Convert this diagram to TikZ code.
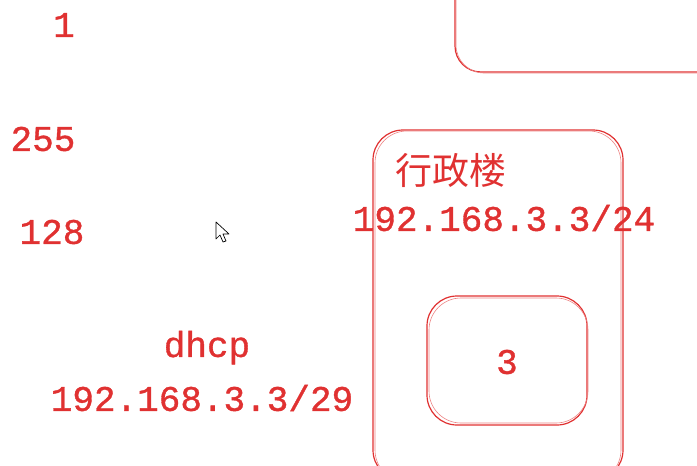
\documentclass[tikz,border=0pt]{standalone}
\usepackage{fontspec}
\setmonofont{Liberation Mono}[FakeBold=1]
\newfontfamily\cjk{Noto Sans CJK SC}
\usetikzlibrary{positioning}
\definecolor{sketchred}{HTML}{E03131}
\tikzset{
  sketch/.style={draw=sketchred, line width=1.2pt},
  sketchfaint/.style={draw=sketchred!60, line width=0.6pt},
  label/.style={text=sketchred, font=\ttfamily\fontsize{36}{40}\selectfont, inner sep=0pt},
  cjklabel/.style={text=sketchred, font=\cjk\fontsize{37}{40}\selectfont, inner sep=0pt},
}
\begin{document}
\begin{tikzpicture}[x=1pt, y=-1pt]
  \useasboundingbox (0,0) rectangle (697,466);

  % numbers on the left
  \node[label] (one) at (64,25) {1};
  \node[label] (mask) at (43,139) {255};
  \node[label] (half) at (52,232) {128};

  % dhcp range
  \node[label] (dhcpip) at (202,398) {192.168.3.3/29};
  \node[label, above=20pt of dhcpip, xshift=5pt] (dhcp) {dhcp};

  % top right box (cut off)
  \draw[sketch, rounded corners=26] (455,-40) rectangle (740,72);
  \draw[sketchfaint, rounded corners=28] (456,-40) rectangle (740,73);

  % admin building
  \draw[sketch, rounded corners=30] (373,130) rectangle (623,480);
  \draw[sketchfaint, rounded corners=32] (375,131) rectangle (621,482);
  \node[cjklabel] (admin) at (451,170) {行政楼};
  \node[label] (adminip) at (504,218) {192.168.3.3/24};

  % inner box
  \draw[sketch, rounded corners=30] (427,296) rectangle (587,425);
  \draw[sketchfaint, rounded corners=32] (429,298) rectangle (588,423);
  \node[label] (three) at (507,362) {3};

  % mouse pointer
  \draw[black, fill=white, line width=0.7pt, line join=round]
    (216,222) -- (216,239) -- (220,235) -- (223,242) -- (226,241)
    -- (223,234) -- (229,234) -- cycle;
\end{tikzpicture}
\end{document}
